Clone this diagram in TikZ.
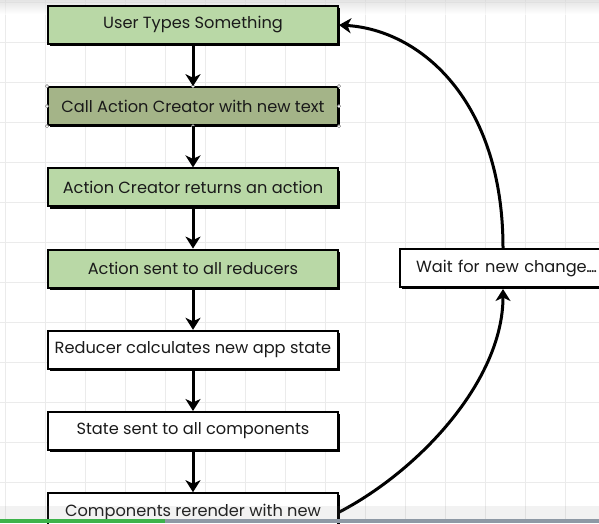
\documentclass[tikz,border=0pt]{standalone}
\usepackage{fontspec}
\usepackage{tikz}
\usetikzlibrary{positioning}
\usetikzlibrary{arrows.meta}
\usetikzlibrary{shadows}
\newfontfamily\boxfont{Poppins}
\definecolor{lightgreen}{HTML}{B9D8A6}
\definecolor{olivegreen}{HTML}{A4B488}
\definecolor{gridgray}{HTML}{EBEBEB}
\definecolor{textgray}{HTML}{1A1A1A}
\definecolor{progressgreen}{HTML}{3DB34A}
\definecolor{progressgray}{HTML}{8E99A5}
\tikzset{
  stepbox/.style={draw=black, line width=2pt, minimum width=290pt, minimum height=38pt,
    inner sep=0pt, font=\boxfont\fontsize{16.2}{18}\selectfont, text=textgray, fill=white,
    general shadow={fill=black, shadow xshift=2.2pt, shadow yshift=-2.2pt}},
  flow/.style={-{Stealth[length=12pt, width=15pt, inset=3.5pt]}, line width=3pt},
  handle/.style={circle, draw=gray, fill=white, line width=0.4pt, inner sep=1.2pt}
}

\begin{document}
\begin{tikzpicture}[x=1pt, y=-1pt]
    \useasboundingbox (0,0) rectangle (599,523);
    \clip (0,0) rectangle (599,523);
    \fill[white] (0,0) rectangle (599,523);
    \foreach \gx in {5,45,...,600} \draw[gridgray, line width=0.8pt] (\gx,0) -- (\gx,523);
    \foreach \gy in {2,42,...,523} \draw[gridgray, line width=0.8pt] (0,\gy) -- (599,\gy);
    \shade[top color=gray!35, bottom color=white, opacity=0.6] (0,0) rectangle (599,14);

    \node[stepbox, fill=lightgreen] (user) at (193,25) {User Types Something};
    \node[stepbox, fill=olivegreen, below=41.2pt of user] (call) {Call Action Creator with new text};
    \node[stepbox, fill=lightgreen, below=41.2pt of call] (creator) {Action Creator returns an action};
    \node[stepbox, fill=lightgreen, below=41.2pt of creator] (sent) {Action sent to all reducers};
    \node[stepbox, below=41.2pt of sent] (reducer) {Reducer calculates new app state};
    \node[stepbox, below=41.2pt of reducer] (state) {State sent to all components};
    \node[stepbox, below=41.2pt of state] (render) {Components rerender with new};
    \node[stepbox, minimum width=0pt, text width=186pt, inner xsep=16pt, align=left, anchor=west] (wait) at (399,268) {Wait for new change\kern-0.5pt.\kern-1pt.\kern-1pt.\kern-1pt.};

    \foreach \a in {north west, north, north east, west, east, south west, south, south east}
        \node[handle] at (call.\a) {};

    \draw[flow] (user) -- (call);
    \draw[flow] (call) -- (creator);
    \draw[flow] (creator) -- (sent);
    \draw[flow] (sent) -- (reducer);
    \draw[flow] (reducer) -- (state);
    \draw[flow] (state) -- (render);

    \coordinate (waittop) at (503,248);
    \coordinate (waitbottom) at (503,289);
    \draw[flow] (waittop) .. controls (503,100) and (420,30) .. (user.east);
    \draw[flow] (render.east) .. controls (420,470) and (503,380) .. (waitbottom);

    \fill[gray, opacity=0.1] (0,506) rectangle (599,519);
    \fill[progressgray] (0,519) rectangle (599,523);
    \fill[progressgreen] (0,519) rectangle (165,523);
\end{tikzpicture}
\end{document}
